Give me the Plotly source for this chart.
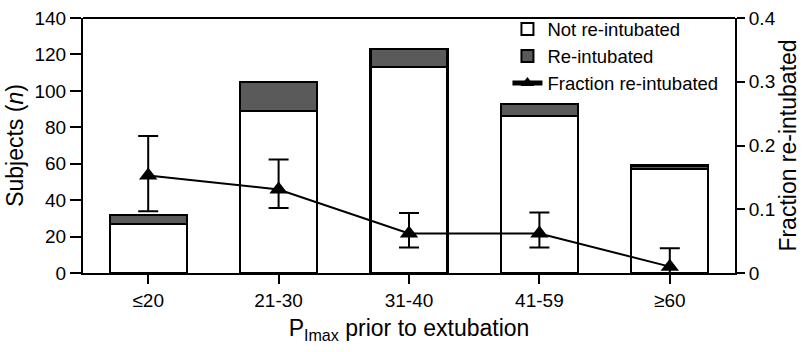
import plotly.graph_objects as go

categories = ["≤20", "21-30", "31-40", "41-59", "≥60"]
not_reintubated = [27, 89, 113, 86, 57]
reintubated = [5, 16, 10, 7, 2]
fraction = [0.153, 0.131, 0.062, 0.062, 0.010]
ci_upper = [0.215, 0.178, 0.094, 0.095, 0.039]
ci_lower = [0.097, 0.102, 0.040, 0.040, 0.0]

err_plus = [u - f for u, f in zip(ci_upper, fraction)]
err_minus = [f - l for f, l in zip(fraction, ci_lower)]

FONT = "Liberation Sans, Arial, sans-serif"

fig = go.Figure()
fig.add_trace(go.Bar(
    x=categories, y=not_reintubated, name="Not re-intubated",
    marker=dict(color="white", line=dict(color="black", width=2.2)),
    width=0.59,
))
fig.add_trace(go.Bar(
    x=categories, y=reintubated, name="Re-intubated",
    marker=dict(color="#5a5a5a", line=dict(color="black", width=2.2)),
    width=0.59,
))
fig.add_trace(go.Scatter(
    x=categories, y=fraction, name="Fraction re-intubated", yaxis="y2",
    mode="lines+markers",
    line=dict(color="black", width=2),
    marker=dict(symbol="triangle-up", size=16, color="black"),
    error_y=dict(type="data", symmetric=False, array=err_plus, arrayminus=err_minus,
                 color="black", thickness=2, width=10),
    cliponaxis=False,
))

fig.update_layout(
    width=812, height=352,
    margin=dict(l=83, r=77, t=10, b=79),
    barmode="stack",
    plot_bgcolor="white", paper_bgcolor="white",
    font=dict(family=FONT, size=19, color="black"),
    showlegend=True,
    legend=dict(x=0.651, y=1.03, xanchor="left", yanchor="top",
                bgcolor="rgba(0,0,0,0)", font=dict(size=18.5), tracegroupgap=0,
                traceorder="normal", itemsizing="constant"),
    xaxis=dict(
        range=[-0.5, 4.5], showline=True, linecolor="black", linewidth=2,
        ticks="outside", ticklen=9, tickwidth=2, tickcolor="black",
        showgrid=False, mirror=False, automargin=False,
        title=dict(text="P<sub>Imax</sub> prior to extubation", font=dict(size=23), standoff=10),
        tickfont=dict(size=19),
    ),
    yaxis=dict(
        range=[0, 140], dtick=20, showline=True, linecolor="black", linewidth=2,
        ticks="outside", ticklen=11, tickwidth=2, tickcolor="black",
        showgrid=False, zeroline=False, automargin=False,
        title=dict(text="Subjects (<i>n</i>)", font=dict(size=23), standoff=4),
        tickfont=dict(size=19),
    ),
    yaxis2=dict(
        range=[0, 0.4], dtick=0.1, overlaying="y", side="right",
        showline=True, linecolor="black", linewidth=2,
        ticks="outside", ticklen=8, tickwidth=2, tickcolor="black",
        showgrid=False, zeroline=False, automargin=False,
        title=dict(text="Fraction re-intubated", font=dict(size=23), standoff=4),
        tickfont=dict(size=19),
    ),
    shapes=[dict(type="line", xref="paper", yref="paper", x0=0, x1=1, y0=1, y1=1,
                 line=dict(color="black", width=2))],
)

fig.write_html("out.html", config={"displayModeBar": False},
               post_script="document.body.style.margin='0';document.body.style.overflow='hidden';")
